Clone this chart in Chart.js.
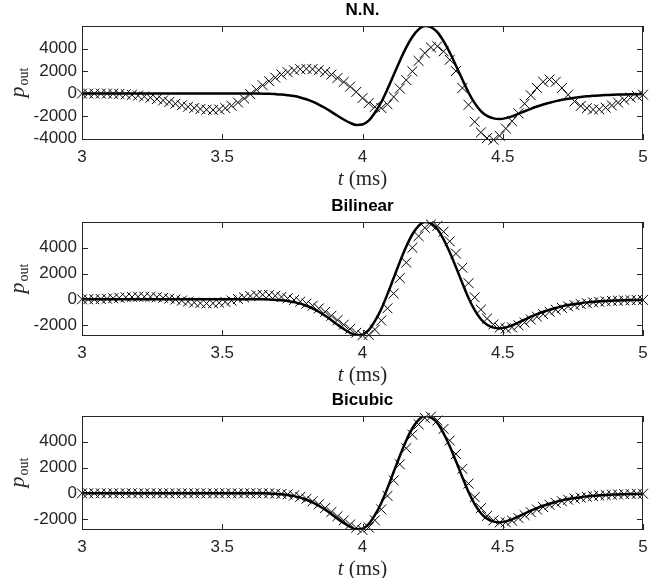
<!DOCTYPE html>
<html>
<head>
<meta charset="utf-8">
<script src="https://cdn.jsdelivr.net/npm/chart.js@4.4.0/dist/chart.umd.min.js"></script>
<style>
  body { margin: 0; background: #fff; }
  #wrap { position: relative; width: 656px; height: 578px; overflow: hidden; }
  canvas { position: absolute; left: 0; }
</style>
</head>
<body>
<div id="wrap">
  <canvas id="nn" width="656" height="196" style="top:0"></canvas>
  <canvas id="bil" width="656" height="194" style="top:196px"></canvas>
  <canvas id="bic" width="656" height="188" style="top:390px"></canvas>
</div>
<script>
// time samples (ms)
const times = [
  3.000, 3.022, 3.044, 3.067, 3.089, 3.111, 3.133, 3.156, 3.178, 3.200,
  3.222, 3.244, 3.267, 3.289, 3.311, 3.333, 3.356, 3.378, 3.400, 3.422,
  3.444, 3.467, 3.489, 3.511, 3.533, 3.556, 3.578, 3.600, 3.622, 3.644,
  3.667, 3.689, 3.711, 3.733, 3.756, 3.778, 3.800, 3.822, 3.844, 3.867,
  3.889, 3.911, 3.933, 3.956, 3.978, 4.000, 4.022, 4.044, 4.067, 4.089,
  4.111, 4.133, 4.156, 4.178, 4.200, 4.222, 4.244, 4.267, 4.289, 4.311,
  4.333, 4.356, 4.378, 4.400, 4.422, 4.444, 4.467, 4.489, 4.511, 4.533,
  4.556, 4.578, 4.600, 4.622, 4.644, 4.667, 4.689, 4.711, 4.733, 4.756,
  4.778, 4.800, 4.822, 4.844, 4.867, 4.889, 4.911, 4.933, 4.956, 4.978,
  5.000
];

// reference signal (solid line)
const refLine = [
  0, 0, 0, 0, 0, 0, 0, 0, 0, 0,
  0, 0, 0, 0, 0, 0, 0, 0, 0, 0,
  0, 0, 0, 0, 0, 0, 0, 0, 0, -5,
  -20, -45, -80, -140, -220, -340, -500, -710, -970, -1280,
  -1620, -1970, -2300, -2600, -2790, -2750, -2400, -1700, -750, 400,
  1650, 2900, 4100, 5050, 5700, 6000, 5900, 5450, 4650, 3650,
  2500, 1250, 100, -850, -1550, -1980, -2200, -2260, -2180, -2020,
  -1800, -1570, -1350, -1150, -970, -810, -670, -550, -450, -370,
  -300, -240, -200, -160, -130, -110, -90, -75, -60, -50,
  -40
];

// N.N. interpolation (crosses)
const nnCross = [
  0, 0, 0, 0, 0, -10, -30, -60, -110, -180,
  -260, -360, -480, -610, -750, -900, -1040, -1170, -1280, -1370,
  -1430, -1450, -1410, -1290, -1080, -790, -440, -50, 350, 740,
  1100, 1420, 1690, 1900, 2060, 2160, 2200, 2170, 2080, 1920,
  1690, 1390, 1030, 620, 150, -400, -850, -1180, -1280, -950,
  -300, 450, 1200, 1980, 2900, 3600, 4100, 4200, 3750, 3000,
  2000, 500, -1000, -2500, -3450, -3950, -4100, -3750, -3100, -2450,
  -1750, -900, -150, 500, 1050, 1250, 1050, 500, -100, -700,
  -1100, -1300, -1420, -1400, -1250, -1050, -800, -550, -350, -200,
  -100
];

// bilinear interpolation (crosses)
const bilCross = [
  0, 0, 0, 20, 50, 80, 120, 150, 180, 200,
  200, 190, 160, 110, 50, -20, -100, -180, -250, -300,
  -320, -310, -270, -200, -100, 20, 140, 250, 320, 350,
  330, 270, 180, 70, -60, -180, -330, -500, -710, -970,
  -1280, -1620, -1970, -2300, -2600, -2790, -2760, -2350, -1650, -700,
  450, 1650, 2850, 4000, 4900, 5550, 5800, 5700, 5250, 4500,
  3550, 2450, 1250, 150, -800, -1500, -1950, -2200, -2260, -2180,
  -2020, -1800, -1570, -1350, -1150, -970, -810, -670, -550, -450,
  -370, -300, -240, -200, -160, -130, -110, -90, -75, -60,
  -50
];

// bicubic interpolation (crosses)
const bicCross = [
  0, 0, 0, 0, 0, 0, 0, 0, 0, 0,
  0, 0, 0, 0, 0, 0, 0, 0, 0, 0,
  0, 0, 0, 0, 0, 0, 0, 0, 0, 0,
  0, -20, -50, -90, -170, -280, -430, -620, -860, -1140,
  -1450, -1780, -2110, -2420, -2680, -2850, -2650, -2100, -1250, -200,
  1000, 2250, 3500, 4550, 5350, 5850, 5950, 5650, 5000, 4100,
  3050, 1900, 750, -300, -1150, -1750, -2100, -2270, -2250, -2120,
  -1920, -1700, -1470, -1260, -1070, -900, -750, -620, -500, -410,
  -330, -270, -220, -180, -140, -110, -90, -70, -55, -45,
  -35
];

const xTicks = [3, 3.5, 4, 4.5, 5];
const yTicksNN = [-4000, -2000, 0, 2000, 4000];
const yTicksInterp = [-2000, 0, 2000, 4000];

const AXIS_COLOR = '#262626';
const TICK_FONT = { family: 'Liberation Sans', size: 17 };

// MATLAB-like box, inward ticks, title and axis labels
const matlabFrame = {
  id: 'matlabFrame',
  afterDatasetsDraw(chart, args, opts) {
    const ctx = chart.ctx;
    const a = chart.chartArea;
    const xs = chart.scales.x, ys = chart.scales.y;
    const tl = 6;
    ctx.save();
    ctx.strokeStyle = AXIS_COLOR;
    ctx.lineWidth = 1;
    ctx.strokeRect(a.left + 0.5, a.top + 0.5, a.right - a.left - 1, a.bottom - a.top - 1);
    ctx.beginPath();
    xTicks.forEach(v => {
      const px = Math.round(xs.getPixelForValue(v)) + 0.5;
      ctx.moveTo(px, a.bottom); ctx.lineTo(px, a.bottom - tl);
      ctx.moveTo(px, a.top); ctx.lineTo(px, a.top + tl);
    });
    opts.yTicks.forEach(v => {
      const py = Math.round(ys.getPixelForValue(v)) + 0.5;
      ctx.moveTo(a.left, py); ctx.lineTo(a.left + tl, py);
      ctx.moveTo(a.right, py); ctx.lineTo(a.right - tl, py);
    });
    ctx.stroke();

    const cx = (a.left + a.right) / 2;
    ctx.fillStyle = '#000';
    ctx.textBaseline = 'middle';
    ctx.textAlign = 'center';
    ctx.font = 'bold 17px "Liberation Sans"';
    ctx.fillText(opts.title, cx, 10);

    // x label: t (ms)
    ctx.fillStyle = AXIS_COLOR;
    ctx.textAlign = 'left';
    ctx.textBaseline = 'alphabetic';
    const itF = 'italic 21px "Liberation Serif"', rmF = '21px "Liberation Serif"';
    ctx.font = itF; const w1 = ctx.measureText('t').width;
    ctx.font = rmF; const w2 = ctx.measureText(' (ms)').width;
    let x0 = cx - (w1 + w2) / 2;
    const by = a.bottom + 45;
    ctx.font = itF; ctx.fillText('t', x0, by);
    ctx.font = rmF; ctx.fillText(' (ms)', x0 + w1, by);

    // y label: p_out
    ctx.translate(24, (a.top + a.bottom) / 2);
    ctx.rotate(-Math.PI / 2);
    const pF = 'italic 22px "Liberation Serif"', sF = '14px "Liberation Serif"';
    ctx.font = pF; const pw = ctx.measureText('p').width;
    ctx.font = sF; const sw = ctx.measureText('out').width;
    x0 = -(pw + sw) / 2;
    ctx.font = pF; ctx.fillText('p', x0, 0);
    ctx.font = sF; ctx.fillText('out', x0 + pw + 1, 4);
    ctx.restore();
  }
};

function makePanel(id, title, crosses, yMin, yMax, yTicks) {
  const canvas = document.getElementById(id);
  const H = canvas.height;
  return new Chart(canvas, {
    type: 'scatter',
    data: {
      datasets: [
        {
          data: times.map((t, i) => ({ x: t, y: refLine[i] })),
          showLine: true,
          borderColor: '#000',
          borderWidth: 2.5,
          pointRadius: 0,
          cubicInterpolationMode: 'monotone'
        },
        {
          data: times.map((t, i) => ({ x: t, y: crosses[i] })),
          showLine: false,
          pointStyle: 'crossRot',
          pointRadius: 7,
          pointBorderColor: '#000',
          pointBorderWidth: 1,
          borderColor: '#000',
          clip: false
        }
      ]
    },
    options: {
      responsive: false,
      animation: false,
      layout: { padding: { left: 0, right: 13, top: 26, bottom: 0 } },
      plugins: {
        legend: { display: false },
        tooltip: { enabled: false },
        matlabFrame: { title: title, yTicks: yTicks }
      },
      scales: {
        x: {
          type: 'linear',
          min: 3, max: 5,
          grid: { display: false, drawTicks: false },
          border: { display: false },
          afterBuildTicks: s => { s.ticks = xTicks.map(v => ({ value: v })); },
          afterFit: s => { s.height = H - 140; },
          ticks: { color: AXIS_COLOR, font: TICK_FONT, padding: 7, maxRotation: 0, callback: v => String(v) }
        },
        y: {
          min: yMin, max: yMax,
          grid: { display: false, drawTicks: false },
          border: { display: false },
          afterBuildTicks: s => { s.ticks = yTicks.map(v => ({ value: v })); },
          afterFit: s => { s.width = 82; },
          ticks: { color: AXIS_COLOR, font: TICK_FONT, padding: 5, callback: v => String(v) }
        }
      }
    },
    plugins: [matlabFrame]
  });
}

makePanel('nn', 'N.N.', nnCross, -4120, 6000, yTicksNN);
makePanel('bil', 'Bilinear', bilCross, -2850, 6000, yTicksInterp);
makePanel('bic', 'Bicubic', bicCross, -2850, 6000, yTicksInterp);
</script>
</body>
</html>
